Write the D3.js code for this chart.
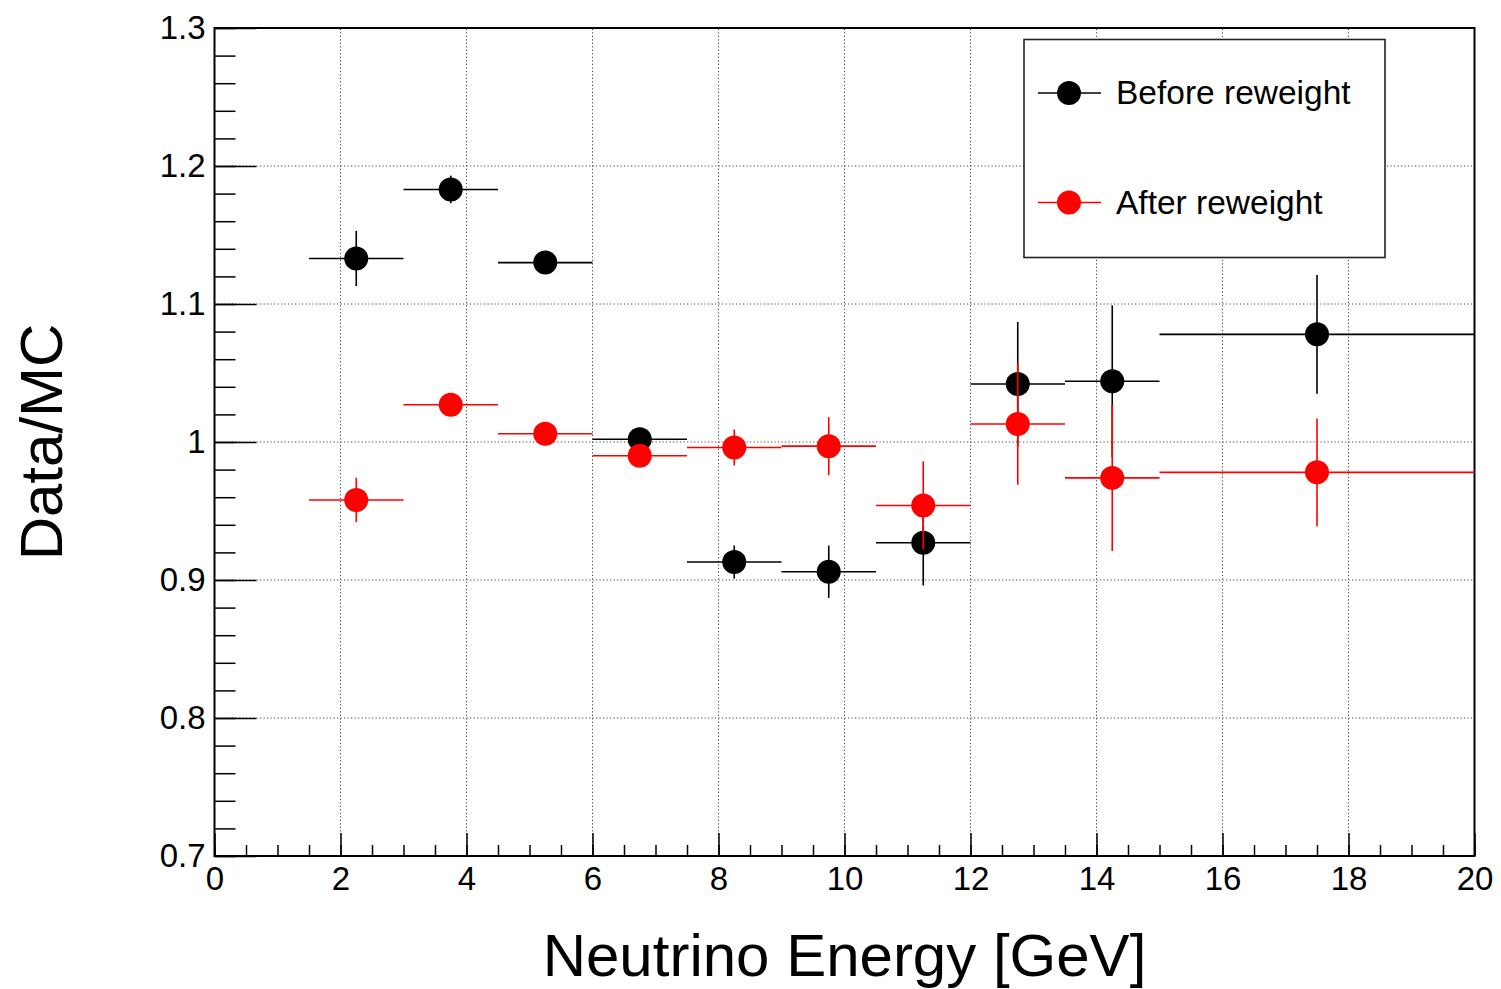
<!DOCTYPE html>
<html>
<head>
<meta charset="utf-8">
<script src="https://cdn.jsdelivr.net/npm/d3@7"></script>
<style>
  body { margin: 0; background: #fff; }
  text { font-family: "Liberation Sans", Arial, Helvetica, sans-serif; fill: #000; }
</style>
</head>
<body>
<script>
// bins in neutrino energy (GeV)
const binLow  = [1.5, 3, 4.5, 6, 7.5, 9, 10.5, 12, 13.5, 15];
const binHigh = [3, 4.5, 6, 7.5, 9, 10.5, 12, 13.5, 15, 20];
const binCentre = [2.25, 3.75, 5.25, 6.75, 8.25, 9.75, 11.25, 12.75, 14.25, 17.5];

// data/MC ratio before and after reweighting
const before    = [1.133, 1.183, 1.130, 1.002, 0.913, 0.906, 0.927, 1.042, 1.044, 1.078];
const beforeErr = [0.020, 0.010, 0.005, 0.004, 0.012, 0.019, 0.031, 0.045, 0.055, 0.043];
const after     = [0.958, 1.027, 1.006, 0.990, 0.996, 0.997, 0.954, 1.013, 0.974, 0.978];
const afterErr  = [0.016, 0.005, 0.005, 0.004, 0.013, 0.021, 0.032, 0.044, 0.053, 0.039];

const xTicks = [0, 2, 4, 6, 8, 10, 12, 14, 16, 18, 20];
const yTicks = [0.7, 0.8, 0.9, 1, 1.1, 1.2, 1.3];
const seriesNames = ['Before reweight', 'After reweight'];
const seriesColours = ['#000000', '#ff0000'];

const width = 1501, height = 989;
const svg = d3.select('body').append('svg')
  .attr('width', width)
  .attr('height', height);

const x = d3.scaleLinear().domain([0, 20]).range([214.5, 1474.5]);
const y = d3.scaleLinear().domain([0.7, 1.3]).range([856, 28]);

// grid (dotted)
const grid = svg.append('g');
grid.selectAll('line.gx')
  .data(xTicks.slice(1, -1))
  .enter().append('line')
    .attr('class', 'gx')
    .attr('x1', d => x(d)).attr('x2', d => x(d))
    .attr('y1', y(0.7)).attr('y2', y(1.3));
grid.selectAll('line.gy')
  .data(yTicks.slice(1, -1))
  .enter().append('line')
    .attr('class', 'gy')
    .attr('x1', x(0)).attr('x2', x(20))
    .attr('y1', d => y(d)).attr('y2', d => y(d));
grid.selectAll('line')
  .attr('stroke', '#444')
  .attr('stroke-width', 1)
  .attr('stroke-dasharray', '1.2,2.3');

// axes, ticks pointing inwards
const yFmt = d => d === 1 ? '1' : d3.format('.1f')(d);

const yMinor = svg.append('g')
  .attr('transform', `translate(${x(0)},0)`)
  .call(d3.axisLeft(y).tickValues(y.ticks(30)).tickSize(-21).tickFormat(''));
const yMajor = svg.append('g')
  .attr('transform', `translate(${x(0)},0)`)
  .call(d3.axisLeft(y).tickValues(yTicks).tickSize(-42).tickPadding(9).tickFormat(yFmt));

const xMinor = svg.append('g')
  .attr('transform', `translate(0,${y(0.7)})`)
  .call(d3.axisBottom(x).tickValues(x.ticks(40)).tickSize(-11).tickFormat(''));
const xMajor = svg.append('g')
  .attr('transform', `translate(0,${y(0.7)})`)
  .call(d3.axisBottom(x).tickValues(xTicks).tickSize(-23).tickPadding(11).tickFormat(d3.format('d')));

[yMinor, yMajor, xMinor, xMajor].forEach(g => {
  g.select('.domain').remove();
  g.selectAll('line').attr('stroke', '#000').attr('stroke-width', 1.5);
  g.selectAll('text')
    .style('font-family', '"Liberation Sans", Arial, sans-serif')
    .style('font-size', '33px')
    .attr('fill', '#000');
});

// frame
svg.append('rect')
  .attr('x', x(0)).attr('y', y(1.3))
  .attr('width', x(20) - x(0))
  .attr('height', y(0.7) - y(1.3))
  .attr('fill', 'none')
  .attr('stroke', '#000')
  .attr('stroke-width', 2);

// data points with error bars
const drawSeries = (vals, errs, colour) => {
  const g = svg.append('g');
  const pts = vals.map((v, i) => ({ lo: binLow[i], hi: binHigh[i], c: binCentre[i], v, e: errs[i] }));
  g.selectAll('line.h')
    .data(pts)
    .enter().append('line')
      .attr('x1', d => x(d.lo)).attr('x2', d => x(d.hi))
      .attr('y1', d => y(d.v)).attr('y2', d => y(d.v));
  g.selectAll('line.v')
    .data(pts)
    .enter().append('line')
      .attr('x1', d => x(d.c)).attr('x2', d => x(d.c))
      .attr('y1', d => y(d.v - d.e)).attr('y2', d => y(d.v + d.e));
  g.selectAll('line')
    .attr('stroke', colour)
    .attr('stroke-width', 1.6);
  g.selectAll('circle')
    .data(pts)
    .enter().append('circle')
      .attr('cx', d => x(d.c))
      .attr('cy', d => y(d.v))
      .attr('r', 12)
      .attr('fill', colour);
};
drawSeries(before, beforeErr, seriesColours[0]);
drawSeries(after, afterErr, seriesColours[1]);

// legend
const legend = svg.append('g');
legend.append('rect')
  .attr('x', 1024).attr('y', 39.5)
  .attr('width', 361).attr('height', 218)
  .attr('fill', '#fff')
  .attr('stroke', '#222')
  .attr('stroke-width', 1.6);
const entries = legend.selectAll('g.entry')
  .data(seriesNames)
  .enter().append('g')
    .attr('class', 'entry')
    .attr('transform', (d, i) => `translate(1069, ${93 + i * 109.5})`);
entries.append('line')
  .attr('x1', -31).attr('x2', 32)
  .attr('stroke', (d, i) => seriesColours[i])
  .attr('stroke-width', 1.6);
entries.append('circle')
  .attr('r', 12)
  .attr('fill', (d, i) => seriesColours[i]);
entries.append('text')
  .attr('x', 47)
  .attr('dy', '0.33em')
  .style('font-size', '33.5px')
  .text(d => d);

// axis titles
svg.append('text')
  .attr('x', (x(0) + x(20)) / 2)
  .attr('y', 976)
  .attr('text-anchor', 'middle')
  .style('font-size', '60px')
  .text('Neutrino Energy [GeV]');

svg.append('text')
  .attr('transform', `translate(62, ${(y(0.7) + y(1.3)) / 2}) rotate(-90)`)
  .attr('text-anchor', 'middle')
  .style('font-size', '60px')
  .text('Data/MC');
</script>
</body>
</html>
